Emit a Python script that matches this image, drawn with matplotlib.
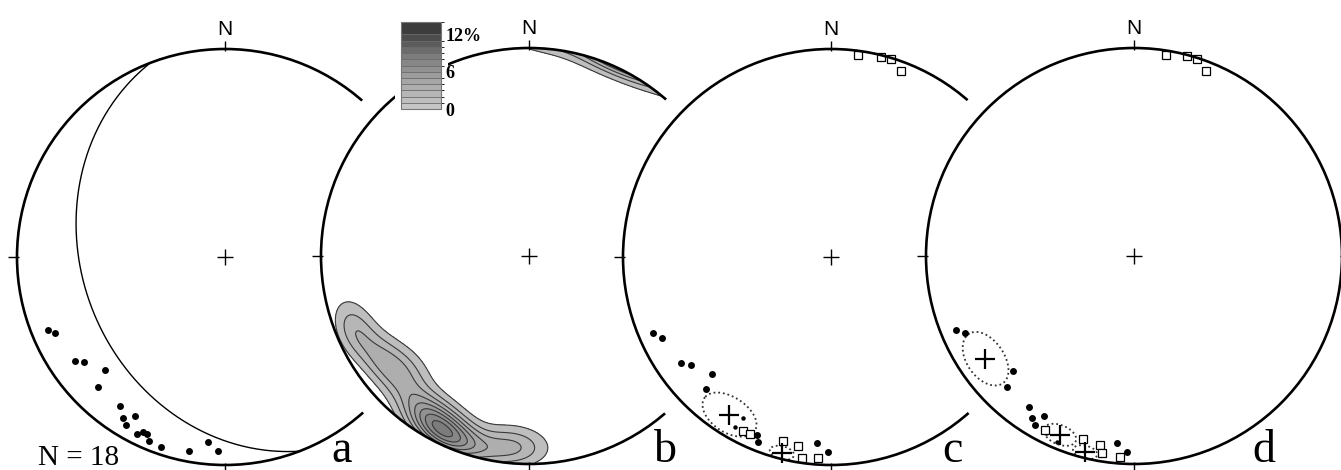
import numpy as np
import matplotlib
matplotlib.use("Agg")
import matplotlib.pyplot as plt
from matplotlib.patches import Circle, Rectangle
from matplotlib.colors import LinearSegmentedColormap, BoundaryNorm
from matplotlib.cm import ScalarMappable

# ------------------------------------------------------------------ data
# Panel a: site directions (trend / plunge, degrees), lower hemisphere
a_trend = [247.7, 245.8, 235.4, 233.5, 226.7, 224.3, 215.0, 212.4, 209.6,
           210.4, 206.3, 205.2, 203.7, 202.3, 198.5, 190.5, 185.2, 182.1]
a_plunge = [8.7, 11.3, 13.4, 16.6, 21.6, 13.4, 13.4, 9.0, 13.0,
            7.0, 5.6, 7.6, 7.6, 4.8, 4.2, 5.6, 11.6, 7.4]
plane_dipdir = 249.0   # great circle in panel a
plane_dip = 32.0
n_text = "N = 18"

# Panel b: density of panel-a directions (% per 1% area)
density_bounds = [0, 1, 2, 3, 4, 5, 6, 7, 8, 9, 10, 11, 12, 14]
cbar_ticks = [0, 6, 12]
cbar_labels = ["0", "6", "12%"]
kappa = 80.0
density_scale = 0.3

# Panel c
c_dot_trend = [246.9, 244.4, 234.8, 232.4, 225.5, 223.4, 202.6, 201.5, 184.3, 180.9]
c_dot_plunge = [7.7, 10.8, 12.7, 16.1, 20.9, 13.6, 8.1, 4.9, 11.2, 6.9]
c_small_trend = [208.7, 209.5]
c_small_plunge = [12.8, 6.8]
c_sq_trend = [206.8, 204.6, 194.6, 189.9, 188.2, 183.7, 7.6, 14.0, 16.8, 20.6]
c_sq_plunge = [6.9, 7.0, 9.5, 8.6, 2.5, 3.4, 2.1, 1.0, 0.6, 4.9]
c_mean_trend = [212.8, 194.1]
c_mean_plunge = [10.4, 3.3]
c_a95 = [9.0, 3.5]

# Panel d
d_dot_trend = [247.4, 245.5, 226.5, 224.1, 214.8, 212.2, 209.4, 210.4, 185.2, 182.0]
d_dot_plunge = [8.1, 11.6, 20.9, 13.3, 12.6, 8.8, 12.7, 6.5, 10.6, 6.4]
d_small_trend = [206.4, 202.5]
d_small_plunge = [5.6, 3.4]
d_sq_trend = [207.1, 195.6, 190.2, 189.2, 184.0, 9.0, 14.8, 17.7, 21.3]
d_sq_plunge = [6.8, 9.6, 8.5, 4.5, 3.3, 2.3, 0.8, 0.6, 5.0]
d_mean_trend = [235.3, 202.5, 194.0]
d_mean_plunge = [13.9, 7.6, 3.1]
d_a95 = [9.2, 5.0, 3.5]

panel_letters = ["a", "b", "c", "d"]

# ------------------------------------------------------------------ layout
W, H = 1341, 470
R = 208.0
centers = [(225, 257), (529, 256), (831, 257), (1134, 256)]
letter_dx = [117, 136, 121, 130]
letter_y = 462
HALO = 20

fig = plt.figure(figsize=(W / 100, H / 100), dpi=100)
ax = fig.add_axes([0, 0, 1, 1])
ax.set_xlim(0, W)
ax.set_ylim(H, 0)
ax.axis("off")


def proj(trend, plunge, c):
    t = np.radians(np.asarray(trend, float))
    p = np.radians(np.asarray(plunge, float))
    rr = R * np.sqrt(2) * np.sin((np.pi / 2 - p) / 2)
    return c[0] + rr * np.sin(t), c[1] - rr * np.cos(t)


def vec(trend, plunge):
    t = np.radians(np.asarray(trend, float))
    p = np.radians(np.asarray(plunge, float))
    return np.stack([np.cos(p) * np.sin(t), np.cos(p) * np.cos(t), np.sin(p)], -1)


def to_tp(v):
    return np.degrees(np.arctan2(v[..., 0], v[..., 1])), np.degrees(np.arcsin(np.clip(v[..., 2], -1, 1)))


def small_circle(trend, plunge, alpha):
    m = vec(trend, plunge)
    u = np.cross(m, [0, 0, 1.0])
    u /= np.linalg.norm(u)
    w = np.cross(m, u)
    ph = np.linspace(0, 2 * np.pi, 200)[:, None]
    a = np.radians(alpha)
    pts = np.cos(a) * m + np.sin(a) * (np.cos(ph) * u + np.sin(ph) * w)
    return to_tp(pts)


def base(i):
    c = centers[i]
    z = 10 * i
    ax.add_patch(Circle(c, R + HALO, facecolor="white", edgecolor="none", zorder=z + 1))
    prim = Circle(c, R, facecolor="none", edgecolor="black", lw=1.9, zorder=z + 6)
    ax.add_patch(prim)
    tk = dict(color="black", lw=1.0, zorder=z + 6, solid_capstyle="butt")
    ax.plot([c[0], c[0]], [c[1] - R - 8, c[1] - R + 2], **tk)
    ax.plot([c[0], c[0]], [c[1] + R - 2, c[1] + R + 9], **tk)
    ax.plot([c[0] - R - 9, c[0] - R + 2], [c[1], c[1]], **tk)
    ax.plot([c[0] + R - 2, c[0] + R + 9], [c[1], c[1]], **tk)
    ax.plot([c[0] - 8, c[0] + 8], [c[1], c[1]], **tk)
    ax.plot([c[0], c[0]], [c[1] - 8, c[1] + 8], **tk)
    ax.text(c[0], c[1] - R - 10, "N", ha="center", va="bottom", fontsize=15,
            family="Liberation Sans", zorder=z + 7)
    ax.text(c[0] + letter_dx[i], letter_y, panel_letters[i], ha="center", va="baseline",
            fontsize=33, family="Liberation Serif", zorder=z + 7)
    clip = Circle(c, R, transform=ax.transData)
    return c, z, clip


def dots(tr, pl, c, z, ms=5.0):
    x, y = proj(tr, pl, c)
    ax.plot(x, y, "o", ms=ms, color="black", mec="black", mew=0, zorder=z + 4)


def squares(tr, pl, c, z):
    x, y = proj(tr, pl, c)
    ax.plot(x, y, "s", ms=5.5, mfc="white", mec="black", mew=0.9, zorder=z + 4)


def means(tr, pl, a95, c, z, clip):
    for t, p, a in zip(tr, pl, a95):
        st, sp = small_circle(t, p, a)
        x, y = proj(st, sp, c)
        ln, = ax.plot(x, y, color="#333333", lw=1.3, ls=(0, (1, 1.6)), zorder=z + 3)
        ln.set_clip_path(clip)
        mx, my = proj(t, p, c)
        ax.plot(mx, my, "+", ms=15, mew=1.6, color="black", zorder=z + 5)


# ---------------- panel a
c, z, clip = base(0)
dots(a_trend, a_plunge, c, z)
dd = np.radians(plane_dipdir)
dp = np.radians(plane_dip)
s = np.array([np.sin(dd - np.pi / 2), np.cos(dd - np.pi / 2), 0.0])
dv = np.array([np.cos(dp) * np.sin(dd), np.cos(dp) * np.cos(dd), np.sin(dp)])
ph = np.linspace(0, np.pi, 300)[:, None]
gt, gp = to_tp(np.cos(ph) * s + np.sin(ph) * dv)
gx, gy = proj(gt, gp, c)
ax.plot(gx, gy, color="black", lw=1.0, zorder=z + 3)
ax.text(38, 465, n_text, ha="left", va="baseline", fontsize=21,
        family="Liberation Serif", zorder=z + 7)

# ---------------- panel b
c, z, clip = base(1)
n = 360
X, Y = np.meshgrid(np.linspace(-1, 1, n), np.linspace(-1, 1, n))
rho = np.hypot(X, Y)
theta = 2 * np.arcsin(np.clip(rho, 0, 1) / np.sqrt(2))
az = np.arctan2(X, Y)
G = np.stack([np.sin(theta) * np.sin(az), np.sin(theta) * np.cos(az), np.cos(theta)], -1)
P = vec(a_trend, a_plunge)
cosang = G @ P.T
dens = density_scale * (kappa / len(a_trend)) * (
    np.exp(kappa * (cosang - 1)) + np.exp(kappa * (-cosang - 1))).sum(-1)
dens = np.where(rho <= 1.0, dens, np.nan)
cmap = LinearSegmentedColormap.from_list("g", ["#c6c6c6", "#a6a6a6", "#7c7c7c", "#3c3c3c"])
norm = BoundaryNorm(density_bounds, cmap.N)
XX = c[0] + R * X
YY = c[1] - R * Y
cf = ax.contourf(XX, YY, dens, levels=density_bounds[1:], cmap=cmap, norm=norm,
                 extend="max", zorder=z + 2)
cl = ax.contour(XX, YY, dens, levels=density_bounds[1:], colors="#3a3a3a",
                linewidths=0.8, zorder=z + 3)
cf.set_clip_path(clip)
cl.set_clip_path(clip)

# white backing for the colour scale (hides the circle)
ax.add_patch(Rectangle((395, 16), 53, 98, facecolor="white", edgecolor="none", zorder=45))
cax = fig.add_axes([401 / W, 1 - 109 / H, 40 / W, 87 / H])
sm = ScalarMappable(norm=norm, cmap=cmap)
cb = fig.colorbar(sm, cax=cax, boundaries=density_bounds, ticks=cbar_ticks,
                  drawedges=True, spacing="proportional")
cb.ax.set_yticklabels(cbar_labels, family="Liberation Serif", fontweight="bold", fontsize=13)
cb.ax.tick_params(length=0, pad=3)
cb.outline.set_linewidth(0.8)
cb.outline.set_edgecolor("#777777")
cb.dividers.set_color("#6a6a6a")
cb.dividers.set_linewidth(0.6)

# ---------------- panel c
c, z, clip = base(2)
dots(c_dot_trend, c_dot_plunge, c, z)
dots(c_small_trend, c_small_plunge, c, z, ms=3.2)
squares(c_sq_trend, c_sq_plunge, c, z)
means(c_mean_trend, c_mean_plunge, c_a95, c, z, clip)

# ---------------- panel d
c, z, clip = base(3)
dots(d_dot_trend, d_dot_plunge, c, z)
dots(d_small_trend, d_small_plunge, c, z, ms=3.2)
squares(d_sq_trend, d_sq_plunge, c, z)
means(d_mean_trend, d_mean_plunge, d_a95, c, z, clip)

fig.savefig("out.png", dpi=100, facecolor="white")
